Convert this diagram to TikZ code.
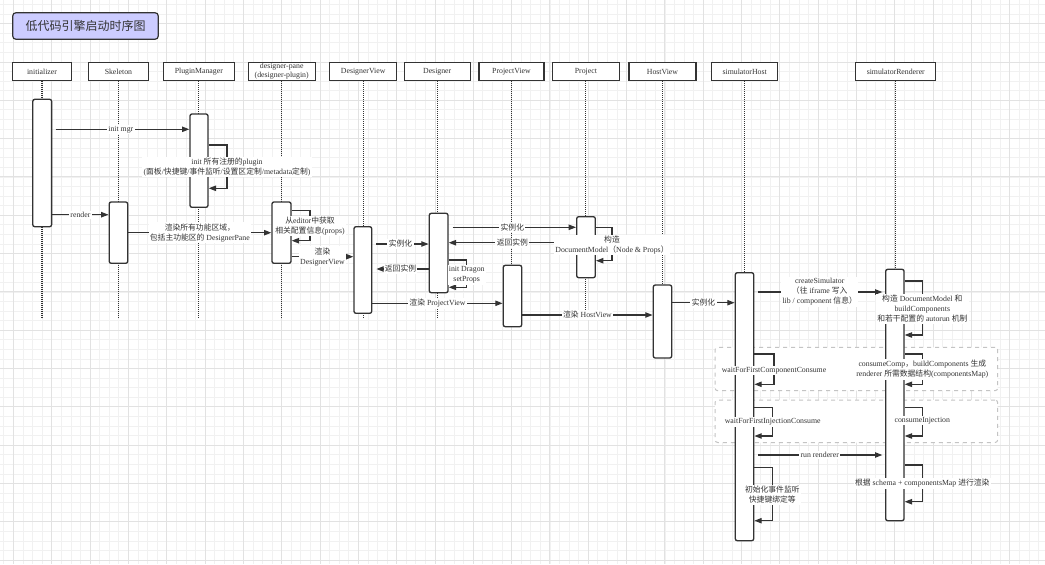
\documentclass[tikz,border=0pt]{standalone}
\usepackage{fontspec}
\setmainfont{Liberation Serif}
\newfontfamily\cjk{Noto Sans CJK SC}
\newcommand\zh[1]{{\cjk #1}}
\usetikzlibrary{arrows.meta,fit}
\definecolor{ink}{HTML}{333333}
\definecolor{gridmin}{HTML}{F1F1F1}
\definecolor{gridmaj}{HTML}{E2E2E2}
\definecolor{titlefill}{HTML}{CCCCFF}
\definecolor{dashc}{HTML}{C4C4C4}
\begin{document}
\begin{tikzpicture}[x=0.75pt,y=-0.75pt,
  every node/.style={text=ink},
  titlebox/.style={draw=ink,line width=0.9pt,fill=titlefill,rounded corners=2.5pt,inner sep=0pt,font=\fontsize{9pt}{11pt}\selectfont,minimum width={145.6*0.75pt},minimum height={26.6*0.75pt}},
  hdr/.style={draw=ink,line width=0.8pt,fill=white,inner sep=0pt,align=center,font=\fontsize{5.85pt}{6.8pt}\selectfont,minimum height={18.4*0.75pt},minimum width={#1*0.75pt}},
  act/.style={draw=ink,line width=1pt,fill=white,rounded corners=1.5pt,inner sep=0pt},
  life/.style={draw=ink,line width=0.8pt,dash pattern=on 0.75pt off 0.75pt},
  msg/.style={draw=ink,line width=0.9pt,-{Triangle[length=5.5pt,width=4pt]}},
  lbl/.style={fill=white,inner sep=1pt,align=center,font=\fontsize{5.85pt}{7.5pt}\selectfont},
  grp/.style={draw=dashc,line width=0.75pt,dash pattern=on 3pt off 3pt,rounded corners=2pt,fill=white,inner sep=0pt},
  gmin/.style={draw=gridmin,line width=0.5pt},
  gmaj/.style={draw=gridmaj,line width=0.6pt},
]
\useasboundingbox (0,0) rectangle (1045,564);
\fill[white] (0,0) rectangle (1045,564);
% grid
\begin{scope}
\clip (0,0) rectangle (1045,564);
\foreach \i in {-2,...,108} \draw[gmin] ({13.4+9.58*\i},0) -- ({13.4+9.58*\i},564);
\foreach \j in {-3,...,58} \draw[gmin] (0,{23.6+9.58*\j}) -- (1045,{23.6+9.58*\j});
\foreach \i in {-1,...,27} \draw[gmaj] ({13.4+38.32*\i},0) -- ({13.4+38.32*\i},564);
\foreach \j in {-1,...,14} \draw[gmaj] (0,{23.6+38.32*\j}) -- (1045,{23.6+38.32*\j});
\end{scope}

% title
\node[titlebox] (title) at (85.5,26) {\zh{低代码引擎启动时序图}};

% group frames
\node[grp, fit={(715,347.3) (997.7,390.7)}] (g1) {};
\node[grp, fit={(715,400) (997.7,442.5)}] (g2) {};

% headers
\node[hdr=59] (hInit) at (42,71.5) {initializer};
\node[hdr=59.8] (hSk) at (118.4,71.5) {Skeleton};
\node[hdr=71] (hPM) at (198.8,71.5) {PluginManager};
\node[hdr=66.7] (hDP) at (281.7,71.5) {designer-pane\\(designer-plugin)};
\node[hdr=67.5] (hDV) at (363.2,71.5) {DesignerView};
\node[hdr=65.7] (hDes) at (437.2,71.5) {Designer};
\node[hdr=65] (hPV) at (511.5,71.5) {ProjectView};
\node[hdr=66.3] (hProj) at (585.9,71.5) {Project};
\node[hdr=67] (hHV) at (662.5,71.5) {HostView};
\node[hdr=66.5] (hSH) at (744.7,71.5) {simulatorHost};
\node[hdr=79.7] (hSR) at (895.8,71.5) {simulatorRenderer};

% lifelines
\foreach \h in {hInit,hSk,hPM,hDP,hDV,hDes,hPV,hProj,hHV,hSH,hSR}
  \draw[life] (\h.south) -- (\h.south |- 0,318);

% activations
\node[act, fit={(32.8,99.3) (51.6,226.7)}] (aInit) {};
\node[act, fit={(109.2,202) (127.7,263.3)}] (aSk) {};
\node[act, fit={(190,114) (208,207.3)}] (aPM) {};
\node[act, fit={(272,202) (291,263.3)}] (aDP) {};
\node[act, fit={(354,226.7) (371.7,313.3)}] (aDV) {};
\node[act, fit={(429.3,213.3) (448,292.7)}] (aDes) {};
\node[act, fit={(503.3,265.3) (521.7,326.7)}] (aPV) {};
\node[act, fit={(576.7,216.7) (595.3,277.7)}] (aProj) {};
\node[act, fit={(653.3,285) (671.7,358)}] (aHV) {};
\node[act, fit={(735.3,272.7) (753.7,540.7)}] (aSH) {};
\node[act, fit={(885.7,269.3) (904,520.7)}] (aSR) {};

% messages
\draw[msg, shorten <=2.5pt] (aInit.east |- 0,129.3) -- node[lbl]{init mgr} (aPM.west |- 0,129.3);
\draw[msg] (aPM.east |- 0,145) -| (227,167) node[lbl]{init \zh{所有注册的}plugin\\(\zh{面板}/\zh{快捷键}/\zh{事件监听}/\zh{设置区定制}/metadata\zh{定制})} |- (aPM.east |- 0,188.3);
\draw[msg] (aInit.east |- 0,214.7) -- node[lbl]{render} (aSk.west |- 0,214.7);
\draw[msg] (aSk.east |- 0,232.7) -- node[lbl]{\zh{渲染所有功能区域，}\\\zh{包括主功能区的} DesignerPane} (aDP.west |- 0,232.7);
\draw[msg] (aDP.east |- 0,210.7) -| (310,226) node[lbl]{\zh{从}editor\zh{中获取}\\\zh{相关配置信息}(props)} |- (aDP.east |- 0,240.7);
\draw[msg] (aDP.east |- 0,256.7) -- node[lbl]{\zh{渲染}\\DesignerView} (aDV.west |- 0,256.7);
\draw[msg, shorten <=3pt] (aDV.east |- 0,244) -- node[lbl]{\zh{实例化}} (aDes.west |- 0,244);
\draw[msg, shorten >=3pt] (aDes.west |- 0,269) -- node[lbl]{\zh{返回实例}} (aDV.east |- 0,269);
\draw[msg, shorten <=3pt] (aDes.east |- 0,227.3) -- node[lbl]{\zh{实例化}} (aProj.west |- 0,227.3);
\draw[msg] (aProj.west |- 0,242.7) -- node[lbl]{\zh{返回实例}} (aDes.east |- 0,242.7);
\draw[msg] (aProj.east |- 0,227.3) -| (612,245) node[lbl]{\zh{构造}\\DocumentModel\zh{（}Node \& Props\zh{）}} |- (aProj.east |- 0,260.7);
\draw[msg] (aDes.east |- 0,260) -| (466.7,275) node[lbl]{init Dragon\\setProps} |- (aDes.east |- 0,287.3);
\draw[msg] (aDV.east |- 0,303.3) -- node[lbl]{\zh{渲染} ProjectView} (aPV.west |- 0,303.3);
\draw[msg] (aPV.east |- 0,315) -- node[lbl]{\zh{渲染} HostView} (aHV.west |- 0,315);
\draw[msg] (aHV.east |- 0,302.7) -- node[lbl]{\zh{实例化}} (aSH.west |- 0,302.7);
\draw[msg, shorten <=3pt, shorten >=2pt] (aSH.east |- 0,292) -- node[lbl]{createSimulator\\\zh{（往} iframe \zh{写入}\\lib / component \zh{信息）}} (aSR.west |- 0,292);
\draw[msg] (aSR.east |- 0,281) -| (922.3,309) node[lbl]{\zh{构造} DocumentModel \zh{和}\\buildComponents\\\zh{和若干配置的} autorun \zh{机制}} |- (aSR.east |- 0,335);
\draw[msg] (aSH.east |- 0,354) -| (774,370.5) node[lbl]{waitForFirstComponentConsume} |- (aSH.east |- 0,384.3);
\draw[msg] (aSR.east |- 0,354) -| (922.3,369.3) node[lbl]{consumeComp\zh{，}buildComponents \zh{生成}\\renderer \zh{所需数据结构}(componentsMap)} |- (aSR.east |- 0,384.3);
\draw[msg] (aSH.east |- 0,407.3) -| (772.7,422) node[lbl]{waitForFirstInjectionConsume} |- (aSH.east |- 0,436);
\draw[msg] (aSR.east |- 0,407.3) -| (922.3,420.5) node[lbl]{consumeInjection} |- (aSR.east |- 0,436);
\draw[msg, shorten <=3pt, shorten >=2pt] (aSH.east |- 0,455) -- node[lbl]{run renderer} (aSR.west |- 0,455);
\draw[msg] (aSH.east |- 0,467.3) -| (772.3,494.7) node[lbl]{\zh{初始化事件监听}\\\zh{快捷键绑定等}} |- (aSH.east |- 0,520.7);
\draw[msg] (aSR.east |- 0,465) -| (922.3,483.5) node[lbl]{\zh{根据} schema + componentsMap \zh{进行渲染}} |- (aSR.east |- 0,501.7);
\end{tikzpicture}
\end{document}
